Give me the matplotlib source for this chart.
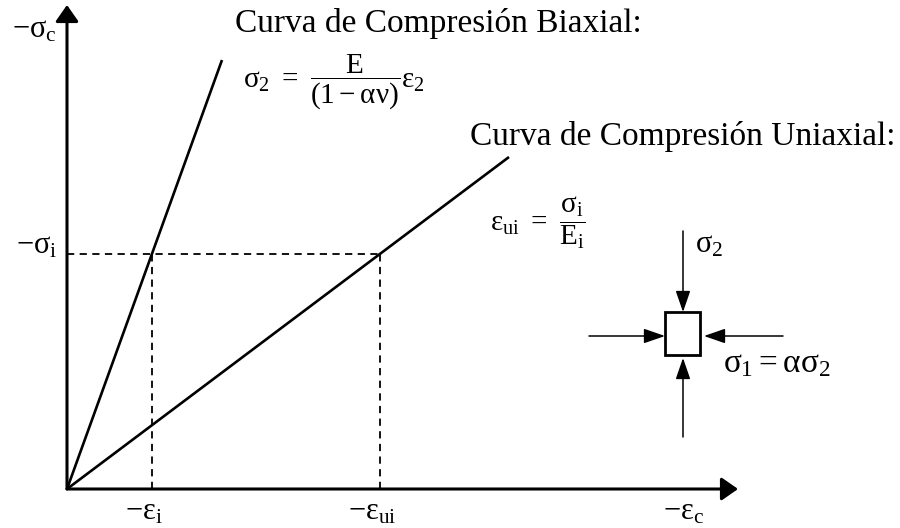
import numpy as np
import matplotlib.pyplot as plt
import matplotlib
from matplotlib.patches import Rectangle

matplotlib.rcParams['font.family'] = 'Liberation Serif'
matplotlib.rcParams['mathtext.fontset'] = 'custom'
matplotlib.rcParams['mathtext.rm'] = 'Liberation Serif'
matplotlib.rcParams['mathtext.it'] = 'Liberation Serif'
matplotlib.rcParams['mathtext.bf'] = 'Liberation Serif:bold'

# strain / stress values (arbitrary units, compression taken positive)
eps_i = 0.85
eps_ui = 3.13
eps_c = 6.24
sig_i = 2.35
sig_c = 4.52
eps_ticks = [eps_i, eps_ui, eps_c]
eps_names = [r'$-\varepsilon_{\mathrm{i}}$', r'$-\varepsilon_{\mathrm{ui}}$', r'$-\varepsilon_{\mathrm{c}}$']
sig_ticks = [sig_i, sig_c]
sig_names = [r'$-\sigma_{\mathrm{i}}$', r'$-\sigma_{\mathrm{c}}$']

# the two linear curves (end points)
biax_x = [0, 1.55]
biax_y = [0, 4.29]
uniax_x = [0, 4.42]
uniax_y = [0, 3.32]

fig = plt.figure(figsize=(9, 5.28), dpi=100)
ax = fig.add_axes([0, 0, 1, 1])
ax.set_xlim(-0.67, 8.33)
ax.set_ylim(-0.39, 4.89)
ax.axis('off')

# axes with arrows
ax_arrow = dict(arrowstyle='-|>,head_length=1.0,head_width=0.7', lw=2.2, color='k',
                mutation_scale=10, shrinkA=0, shrinkB=0)
ax.annotate('', xy=(6.71, 0), xytext=(0, 0), arrowprops=ax_arrow)
ax.annotate('', xy=(0, 4.84), xytext=(0, 0), arrowprops=ax_arrow)

ax.plot(biax_x, biax_y, color='k', lw=1.9, solid_capstyle='butt')
ax.plot(uniax_x, uniax_y, color='k', lw=1.9, solid_capstyle='butt')

dash = (0, (4, 3))
ax.plot([0, eps_ui], [sig_i, sig_i], color='k', lw=1.3, ls=dash)
for e in [eps_i, eps_ui]:
    ax.plot([e, e], [0, sig_i], color='k', lw=1.3, ls=dash)

for e, name in zip(eps_ticks, eps_names):
    ax.text(e - 0.08, -0.31, name, fontsize=22, ha='center', va='baseline')
for s, name in zip(sig_ticks, sig_names):
    ax.text(-0.1, s, name, fontsize=22, ha='right', va='baseline')

ax.text(1.68, 4.57, 'Curva de Compresión Biaxial:', fontsize=24, ha='left', va='baseline')
ax.text(1.76, 4.07, r'$\sigma_2\ =\ \dfrac{\mathrm{E}}{(1-\alpha\nu)}\varepsilon_2$',
        fontsize=21, ha='left', va='center')
ax.text(8.29, 3.44, 'Curva de Compresión Uniaxial:', fontsize=24, ha='right', va='baseline')
ax.text(4.23, 2.66, r'$\varepsilon_{\mathrm{ui}}\ =\ \dfrac{\sigma_{\mathrm{i}}}{\mathrm{E}_{\mathrm{i}}}$',
        fontsize=21, ha='left', va='center')

# small element under biaxial load
ax.add_patch(Rectangle((5.98, 1.34), 0.35, 0.43, fill=False, lw=2, ec='k'))
small = dict(arrowstyle='-|>,head_length=1.3,head_width=0.45', lw=1.1, color='k',
             mutation_scale=10, shrinkA=0, shrinkB=0)
ax.annotate('', xy=(6.16, 1.77), xytext=(6.16, 2.58), arrowprops=small)
ax.annotate('', xy=(6.16, 1.31), xytext=(6.16, 0.52), arrowprops=small)
ax.annotate('', xy=(5.98, 1.53), xytext=(5.22, 1.53), arrowprops=small)
ax.annotate('', xy=(6.37, 1.53), xytext=(7.16, 1.53), arrowprops=small)
ax.text(6.28, 2.36, r'$\sigma_2$', fontsize=22, ha='left', va='baseline')
ax.text(6.56, 1.17, r'$\sigma_1 = \alpha\sigma_2$', fontsize=24, ha='left', va='baseline')

fig.savefig('out.png', dpi=100)
